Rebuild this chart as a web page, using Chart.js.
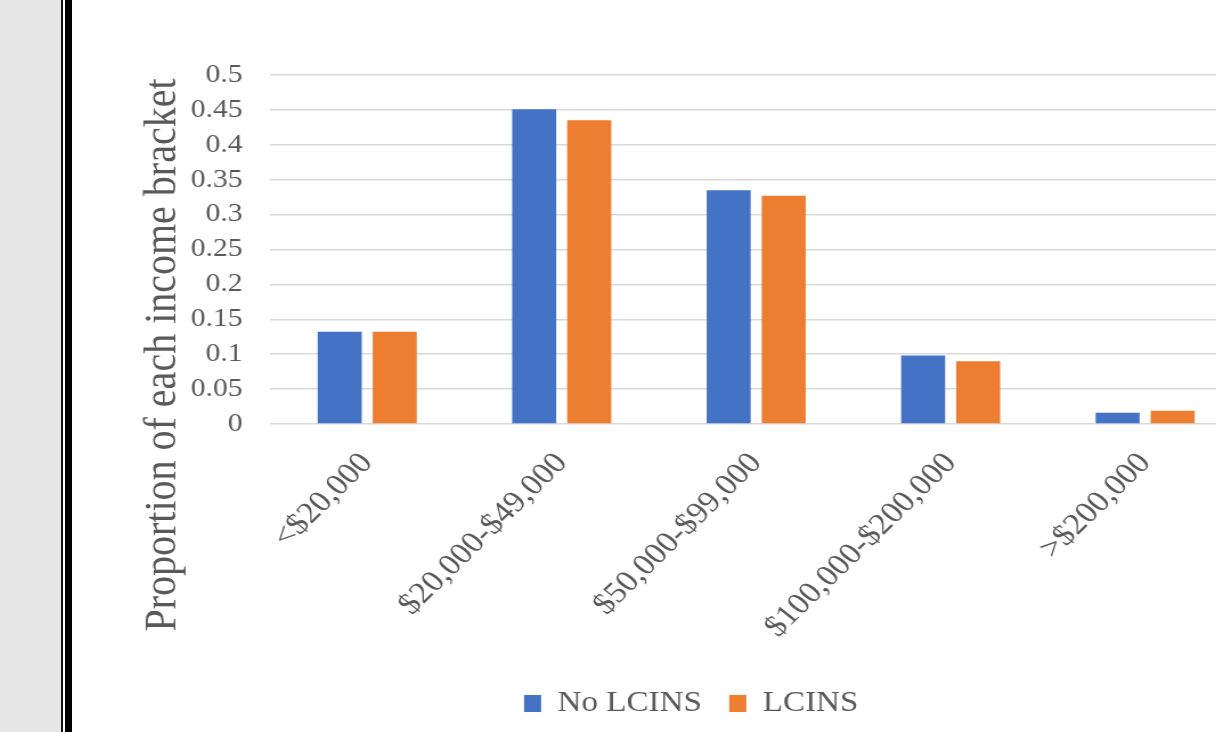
<!DOCTYPE html>
<html>
<head>
<meta charset="utf-8">
<script src="https://cdn.jsdelivr.net/npm/chart.js@4"></script>
<style>
  html, body { margin: 0; padding: 0; width: 1216px; height: 732px; overflow: hidden; background: #fff; }
  #side { position: absolute; left: 0; top: 0; width: 61px; height: 732px; background: #e7e7e7; }
  #rule1 { position: absolute; left: 61px; top: 0; width: 2px; height: 732px; background: #111; }
  #rule2 { position: absolute; left: 65px; top: 0; width: 7px; height: 732px; background: #000; }
  #chart { position: absolute; left: 140px; top: 0; transform: scaleX(1.14); transform-origin: 0 0; }
</style>
</head>
<body>
<div id="side"></div>
<div id="rule1"></div>
<div id="rule2"></div>
<canvas id="chart" width="967" height="732"></canvas>
<script>
const categories = ['<$20,000', '$20,000-$49,000', '$50,000-$99,000', '$100,000-$200,000', '>$200,000'];
const noLcins = [0.132, 0.451, 0.335, 0.098, 0.016];
const lcins = [0.132, 0.435, 0.327, 0.090, 0.019];
const yTicks = [0, 0.05, 0.1, 0.15, 0.2, 0.25, 0.3, 0.35, 0.4, 0.45, 0.5];
const axisTitle = 'Proportion of each income bracket';

const textColor = '#595959';
const serif = 'Liberation Serif';

// rotated y axis title, centred on the whole canvas height
const yTitlePlugin = {
    id: 'yTitle',
    afterDraw(chart) {
        const ctx = chart.ctx;
        ctx.save();
        ctx.translate(20, 355);
        ctx.rotate(-Math.PI / 2);
        ctx.font = '40px "' + serif + '"';
        ctx.fillStyle = textColor;
        ctx.textAlign = 'center';
        ctx.textBaseline = 'middle';
        ctx.fillText(axisTitle, 0, 0);
        ctx.restore();
    }
};

const ctx = document.getElementById('chart').getContext('2d');
new Chart(ctx, {
    type: 'bar',
    data: {
        labels: categories,
        datasets: [{
            label: 'No LCINS',
            data: noLcins,
            backgroundColor: '#4472C4',
            borderWidth: 0,
            categoryPercentage: 0.566,
            barPercentage: 0.8
        }, {
            label: 'LCINS',
            data: lcins,
            backgroundColor: '#ED7D31',
            borderWidth: 0,
            categoryPercentage: 0.566,
            barPercentage: 0.8
        }]
    },
    options: {
        responsive: false,
        animation: false,
        devicePixelRatio: 1,
        layout: {
            padding: { left: 0, right: 0, top: 75, bottom: 4 }
        },
        scales: {
            x: {
                grid: { display: false },
                border: { display: false },
                ticks: {
                    color: textColor,
                    font: { family: serif, size: 30 },
                    minRotation: 48,
                    maxRotation: 48,
                    autoSkip: false,
                    padding: 14
                },
                afterFit: s => { s.height = 241; }
            },
            y: {
                min: 0,
                max: 0.5,
                afterBuildTicks: s => { s.ticks = yTicks.map(v => ({ value: v })); },
                grid: { color: '#d9d9d9', lineWidth: 1.5, drawTicks: false },
                border: { display: false },
                ticks: {
                    color: textColor,
                    font: { family: serif, size: 26 },
                    padding: 24,
                    autoSkip: false,
                    callback: v => String(Number(v.toFixed(2)))
                },
                afterFit: s => { s.width = 114; }
            }
        },
        plugins: {
            legend: {
                position: 'bottom',
                labels: {
                    color: textColor,
                    font: { family: serif, size: 29 },
                    boxWidth: 15,
                    boxHeight: 17,
                    padding: 24
                }
            },
            tooltip: { enabled: false }
        }
    },
    plugins: [yTitlePlugin]
});
</script>
</body>
</html>
